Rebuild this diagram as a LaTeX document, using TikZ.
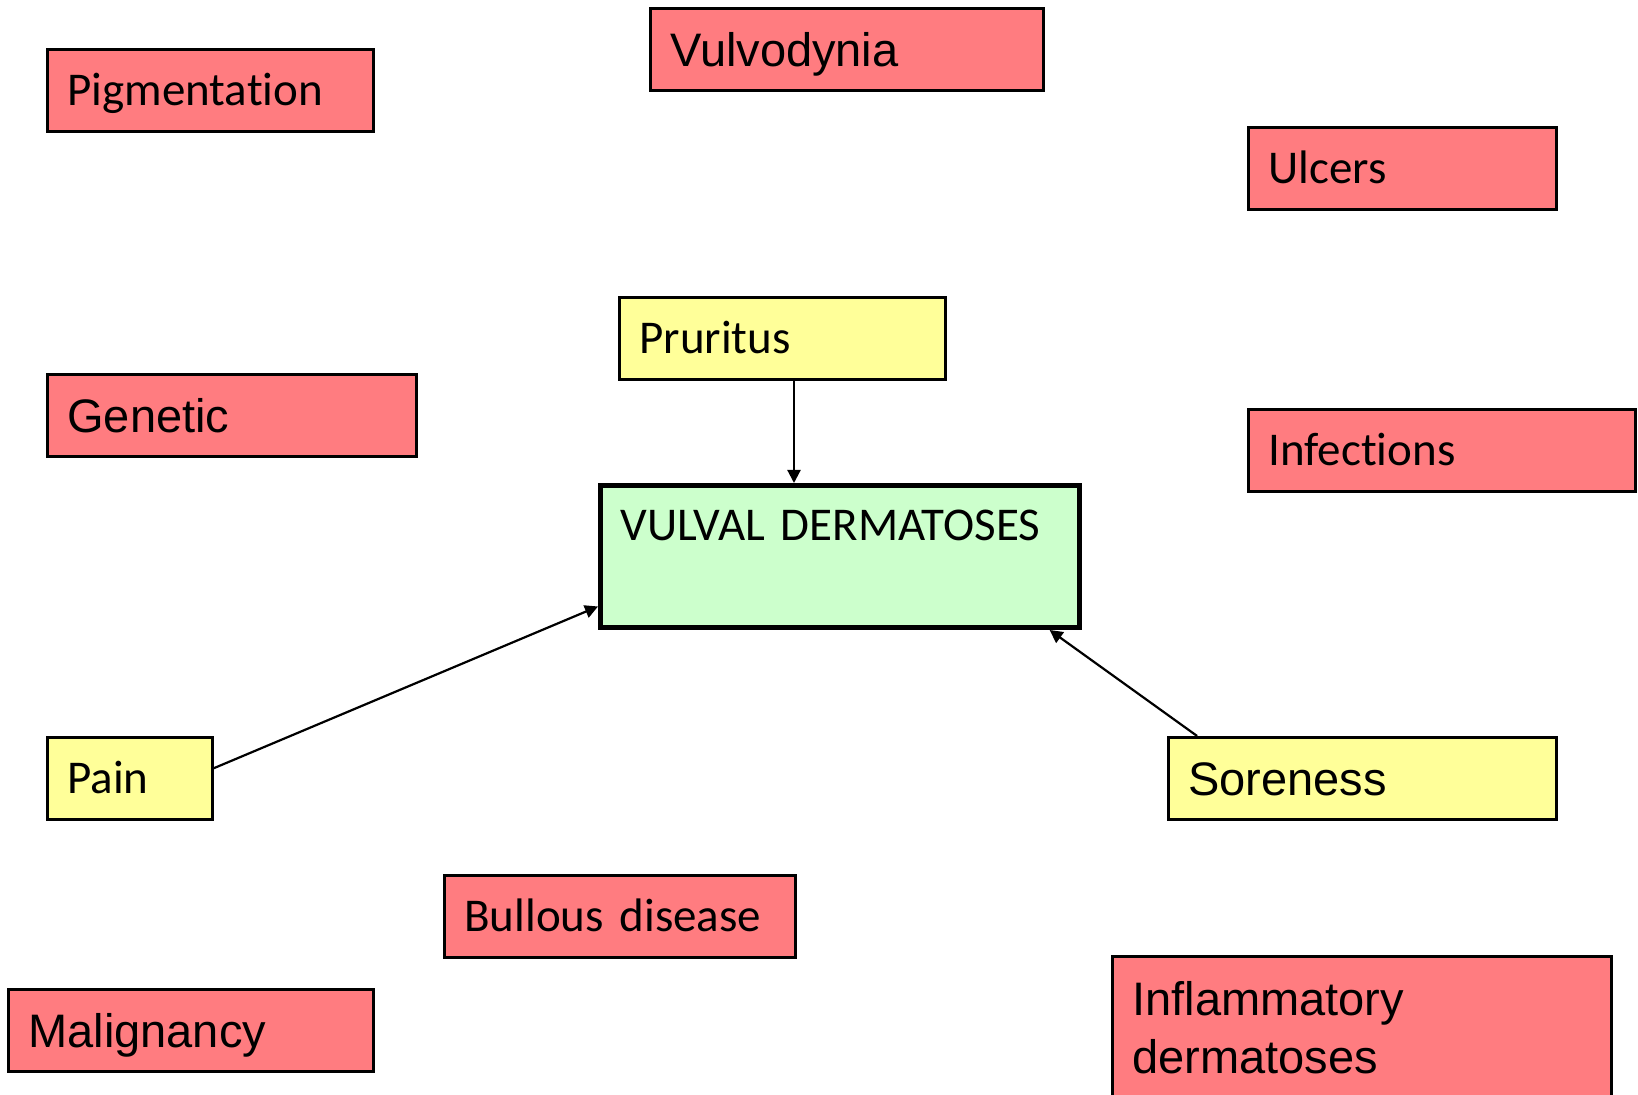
\documentclass[tikz,border=0pt]{standalone}
\usepackage{fontspec}
\newfontfamily\calf[Ligatures=NoCommon]{Carlito}
\newfontfamily\arif[Ligatures=NoCommon]{Liberation Sans}
\usetikzlibrary{arrows.meta,calc}
\definecolor{boxred}{HTML}{FF7C80}
\definecolor{boxyel}{HTML}{FFFF99}
\definecolor{boxgrn}{HTML}{CCFFCC}
\tikzset{
  box/.style={draw=black, line width=1.4pt, anchor=north west, inner xsep=10pt, inner ysep=0pt, align=left},
  calfont/.style={font=\calf\fontsize{23.5}{29}\selectfont, text height=28pt, text depth=13pt},
  arifont/.style={font=\arif\fontsize{23.5}{29}\selectfont, text height=29pt, text depth=12pt},
  redbox/.style={box, fill=boxred},
  yelbox/.style={box, fill=boxyel},
  conn/.style={line width=1.1pt, -{Triangle[length=6.5pt,width=6.5pt]}}
}
\begin{document}
\begin{tikzpicture}[x=0.5pt,y=-0.5pt]
\useasboundingbox (0,0) rectangle (1638,1095);
\fill[white] (0,0) rectangle (1638,1095);

\node[redbox, calfont, text width=143pt] (pig) at (46,48) {Pigmentation};
\node[redbox, arifont, text width=176.5pt] (vul) at (649,7) {Vulvodynia};
\node[redbox, calfont, text width=134pt] (ulc) at (1247,126) {Ulcers};
\node[yelbox, calfont, text width=143pt] (pru) at (618,296) {Pruritus};
\node[redbox, arifont, text width=164.5pt] (gen) at (46,373) {Genetic};
\node[redbox, calfont, text width=173.5pt] (inf) at (1247,408) {Infections};
\node[box, fill=boxgrn, line width=2.5pt, font=\calf\fontsize{23.5}{29}\selectfont,
      text height=27.5pt, text depth=43.5pt, text width=219.5pt] (vd) at (598,483) {VULVAL DERMATOSES};
\node[yelbox, calfont, text width=62.5pt] (pain) at (46,736) {Pain};
\node[yelbox, arifont, text width=174pt] (sor) at (1167,736) {Soreness};
\node[redbox, calfont, text width=155.5pt] (bul) at (443,874) {Bullous disease};
\node[redbox, arifont, text width=162.5pt] (mal) at (7,988) {Malignancy};
\node[redbox, font=\arif\fontsize{23.5}{29}\selectfont, text height=29.5pt, text depth=46.5pt,
      text width=229.5pt] (infl) at (1111,955) {Inflammatory\\dermatoses};

\coordinate (px) at (794,0);
\draw[conn] (pru.south -| px) -- (vd.north -| px);
\draw[conn] ($(pain.north east)!0.38!(pain.south east)$) -- ($(vd.north west)!0.84!(vd.south west)$);
\draw[conn] ($(sor.north west)!0.077!(sor.north east)$) -- ($(vd.south west)!0.933!(vd.south east)$);
\end{tikzpicture}
\end{document}
